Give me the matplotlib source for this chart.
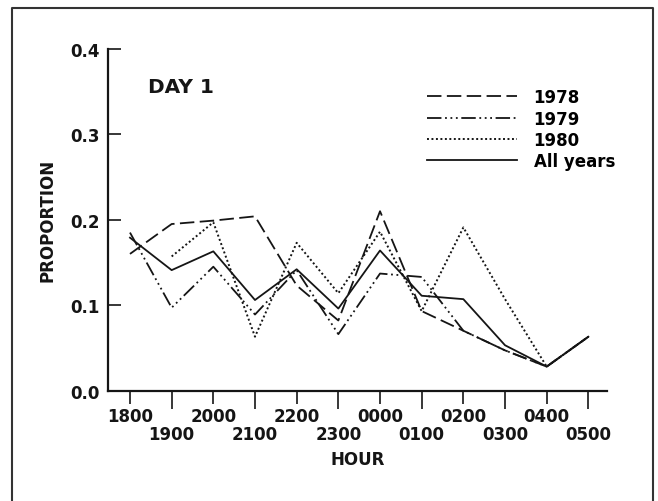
import matplotlib
matplotlib.use("Agg")
import matplotlib.pyplot as plt
from matplotlib.lines import Line2D
from matplotlib.ticker import FixedLocator, FixedFormatter
import numpy as np

hours = ["1800", "1900", "2000", "2100", "2200", "2300",
         "0000", "0100", "0200", "0300", "0400", "0500"]

y1978 = [0.160, 0.195, 0.199, 0.204, 0.123, 0.082, 0.210, 0.093, 0.070, 0.047, 0.028, 0.063]
y1979 = [0.185, 0.097, 0.145, 0.089, 0.141, 0.066, 0.137, 0.133, 0.070, 0.047, 0.028, 0.063]
y1980 = [np.nan, 0.157, 0.197, 0.063, 0.173, 0.114, 0.186, 0.093, 0.191, 0.107, 0.028, 0.063]
yall = [0.179, 0.141, 0.163, 0.106, 0.142, 0.096, 0.164, 0.111, 0.107, 0.053, 0.028, 0.063]

yticks = [0.0, 0.1, 0.2, 0.3, 0.4]

plt.rcParams['font.family'] = ['DejaVu Sans']
plt.rcParams['font.weight'] = 'bold'
plt.rcParams['axes.labelweight'] = 'bold'

ink = '#151515'

fig = plt.figure(figsize=(6.58, 5.02), dpi=100)
ax = fig.add_axes([0.1641, 0.2201, 0.7584, 0.6803])

x = np.arange(len(hours))
ax.plot(x, y1978, color=ink, lw=1.3, linestyle=(0, (8, 3)), label='1978')
ax.plot(x, y1979, color=ink, lw=1.3, linestyle=(0, (8, 2, 1, 2, 1, 2, 1, 2)), label='1979')
ax.plot(x, y1980, color=ink, lw=1.4, linestyle=(0, (1, 1.3)), label='1980')
ax.plot(x, yall, color=ink, lw=1.3, linestyle='-', label='All years')

ax.set_xlim(-0.528, 11.447)
ax.set_ylim(0, 0.4)

for s in ['top', 'right']:
    ax.spines[s].set_visible(False)
for s in ['left', 'bottom']:
    ax.spines[s].set_linewidth(1.6)
    ax.spines[s].set_color(ink)

# y ticks point inward
ax.set_yticks(yticks)
ax.set_yticklabels([f'{v:.1f}' for v in yticks])
ax.tick_params(axis='y', direction='in', length=9.5, width=1.2, pad=6,
               labelsize=12, colors=ink)

# even hours on the upper row, odd hours on the lower row
even = x[::2]
odd = x[1::2]
ax.xaxis.set_major_locator(FixedLocator(even))
ax.xaxis.set_major_formatter(FixedFormatter([hours[i] for i in even]))
ax.xaxis.set_minor_locator(FixedLocator(odd))
ax.xaxis.set_minor_formatter(FixedFormatter([hours[i] for i in odd]))
ax.tick_params(axis='x', which='major', direction='out', length=9, width=1.2,
               pad=3, labelsize=12, colors=ink)
ax.tick_params(axis='x', which='minor', direction='out', length=13, width=1.2,
               pad=12, labelsize=12, colors=ink)

ax.set_xlabel('HOUR', fontsize=12, fontweight='bold', labelpad=5, color=ink)
ax.set_ylabel('PROPORTION', fontsize=12, fontweight='bold', labelpad=10, color=ink)

ax.text(0.080, 0.889, 'DAY 1', transform=ax.transAxes, fontsize=14.5,
        va='center', ha='left', color=ink)

ax.legend(loc='upper left', bbox_to_anchor=(0.639, 0.885), frameon=False,
          borderpad=0, borderaxespad=0, handlelength=5.4, handletextpad=1.0,
          labelspacing=0.2, fontsize=12)

# border around the figure (open at bottom)
fx0, fx1, fy = 12 / 658, 653 / 658, 1 - 9 / 502
fig.add_artist(Line2D([fx0, fx0, fx1, fx1], [0, fy, fy, 0],
                      transform=fig.transFigure, color='#333333', lw=1.5))

fig.savefig('out.png', dpi=100)
